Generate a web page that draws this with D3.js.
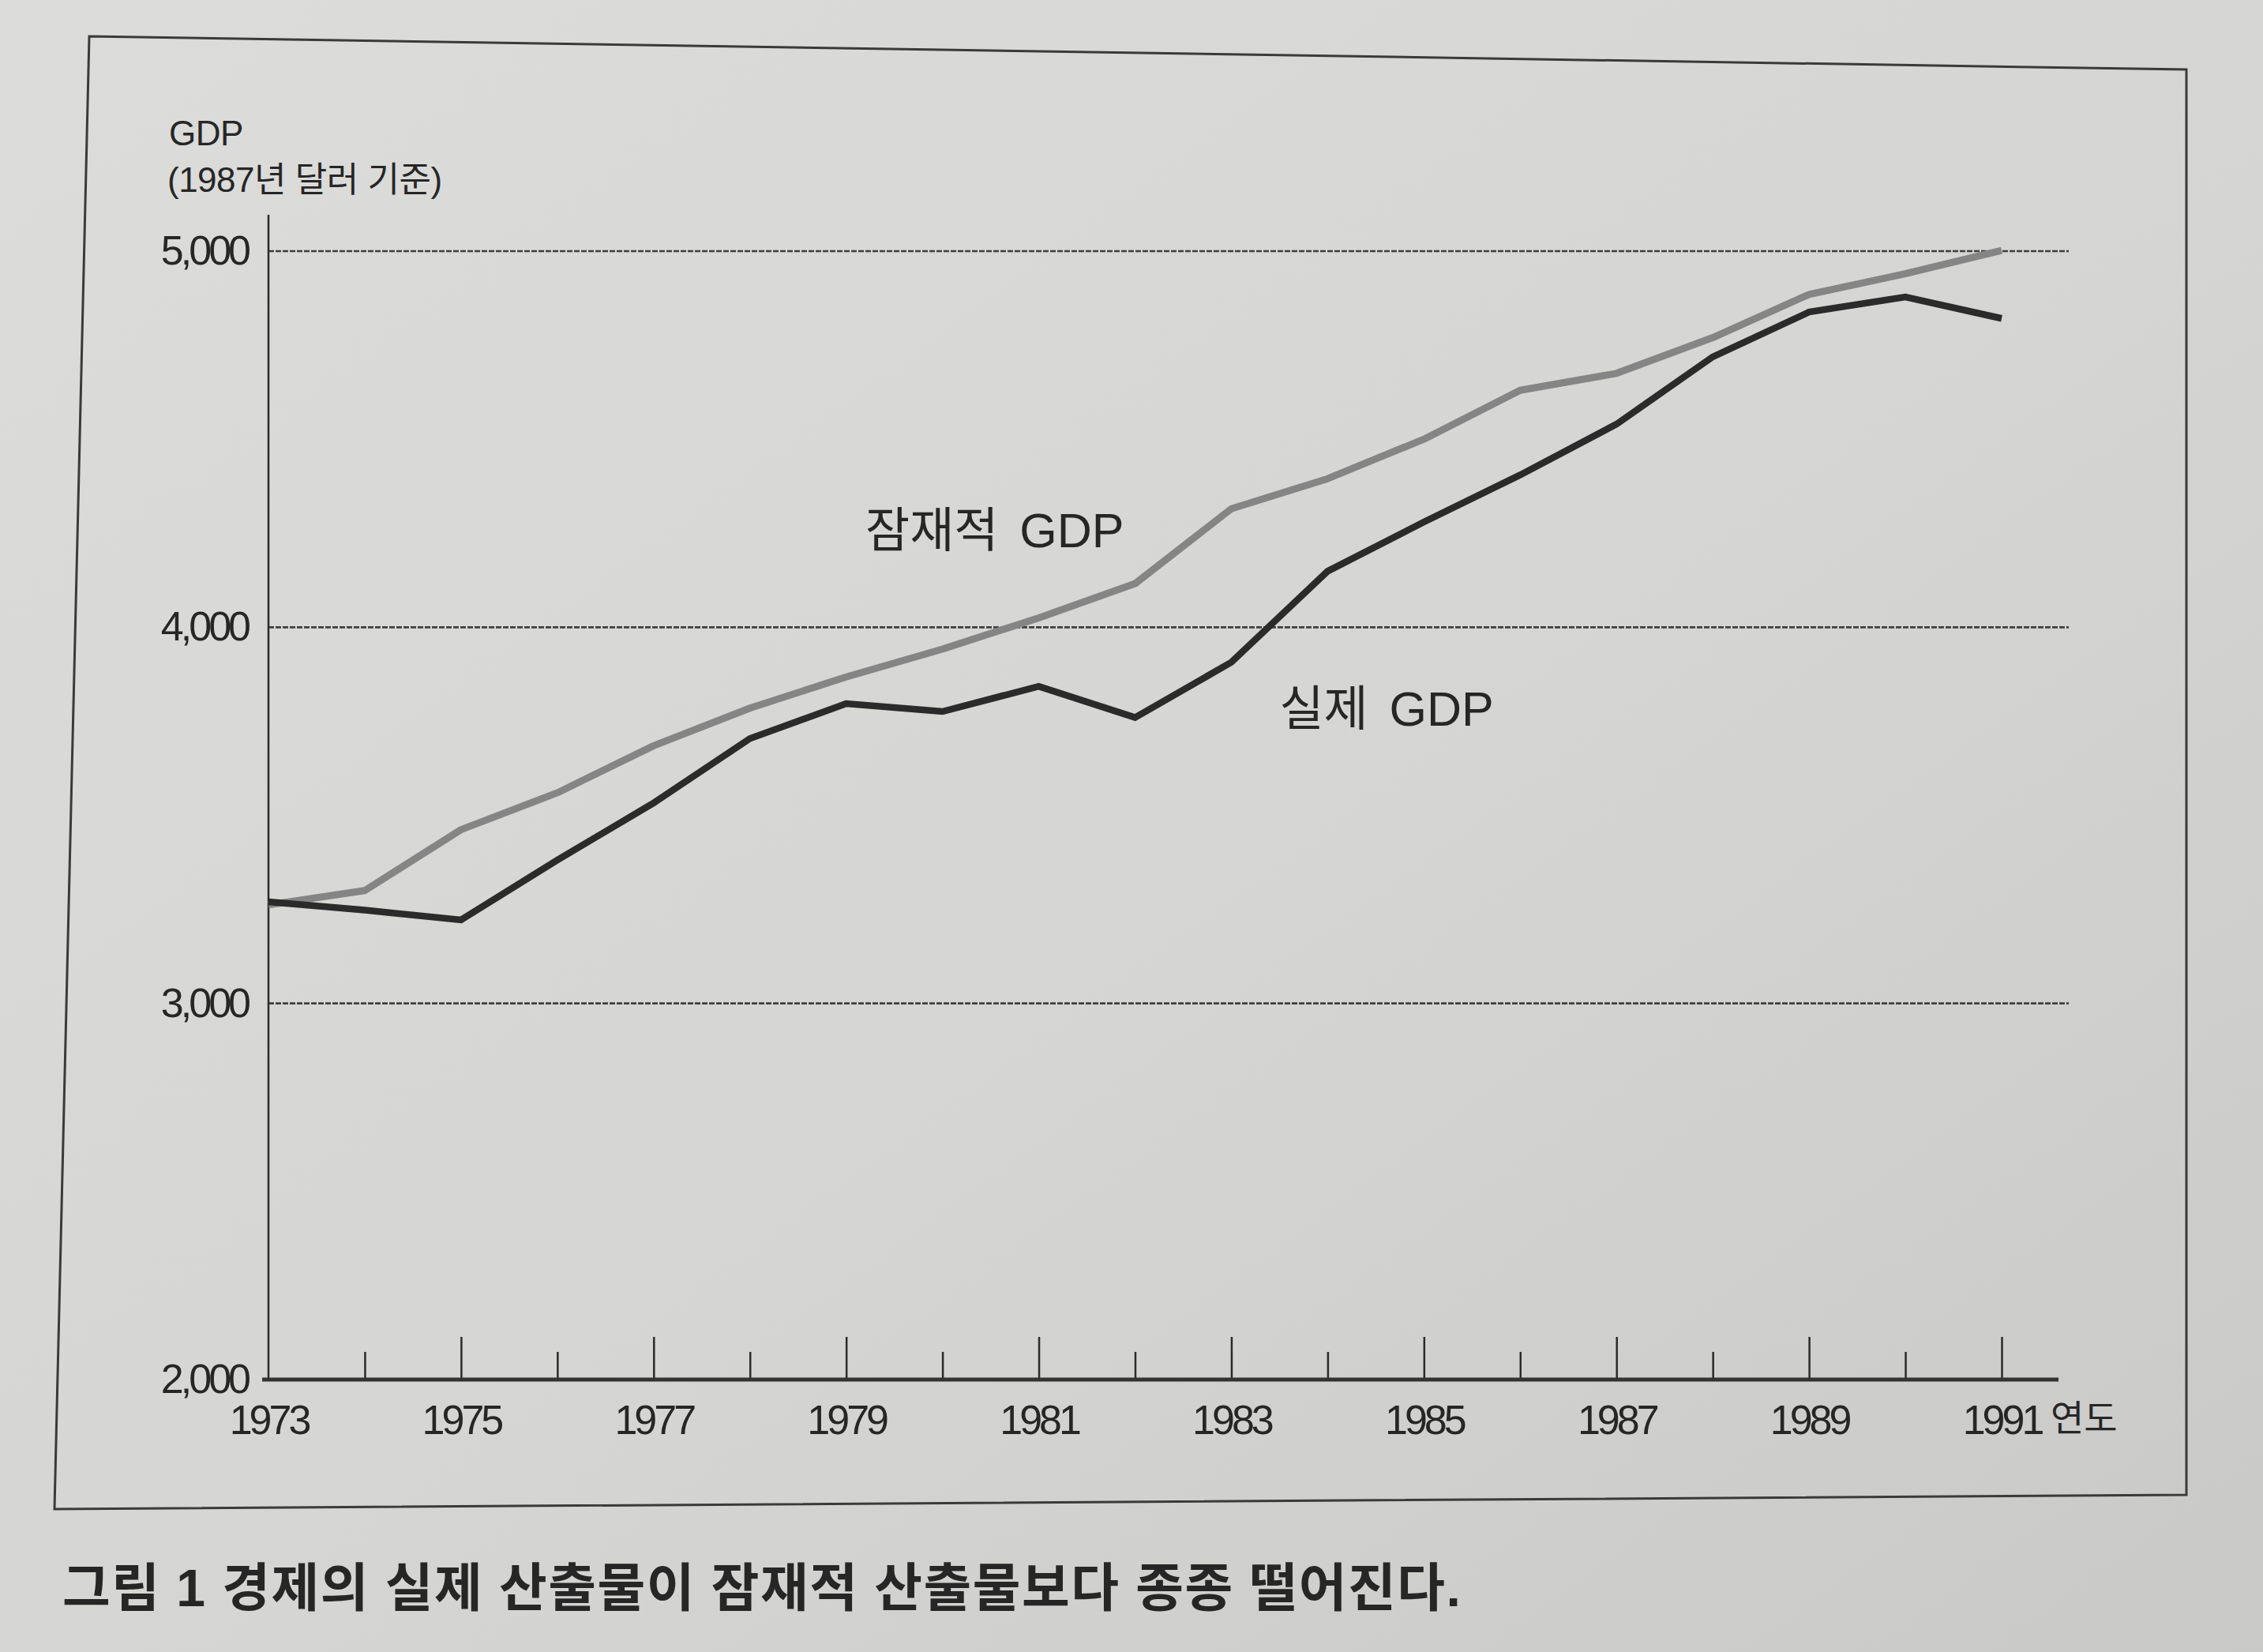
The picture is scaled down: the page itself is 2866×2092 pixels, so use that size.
<!DOCTYPE html>
<html>
<head>
<meta charset="utf-8">
<script src="https://cdn.jsdelivr.net/npm/d3@7"></script>
<style>
  html, body { margin: 0; padding: 0; }
  body { width: 2866px; height: 2092px; overflow: hidden; }
  svg text { font-family: "Liberation Sans", "Noto Sans CJK KR", sans-serif; fill: #262626; }
</style>
</head>
<body>
<div id="chart"></div>
<script>
// Data, GDP in 1987 dollars
const years = [1973, 1974, 1975, 1976, 1977, 1978, 1979, 1980, 1981, 1982,
               1983, 1984, 1985, 1986, 1987, 1988, 1989, 1990, 1991];
const potentialGDP = [3262, 3300, 3462, 3560, 3685, 3785, 3868, 3942, 4025, 4116,
                      4315, 4395, 4500, 4630, 4675, 4770, 4885, 4940, 5002];
const actualGDP = [3270, 3248, 3222, 3381, 3533, 3704, 3797, 3776, 3843, 3760,
                   3907, 4149, 4280, 4405, 4540, 4719, 4838, 4878, 4821];
const yTicks = [2000, 3000, 4000, 5000];
const gridValues = [3000, 4000, 5000];
const labelYears = [1973, 1975, 1977, 1979, 1981, 1983, 1985, 1987, 1989, 1991];

const W = 2866, H = 2092;

const svg = d3.select("#chart")
    .append("svg")
    .attr("width", W)
    .attr("height", H);

// paper background
const defs = svg.append("defs");
const grad = defs.append("linearGradient")
    .attr("id", "paper")
    .attr("x1", 0).attr("y1", 0).attr("x2", 1).attr("y2", 1);
grad.append("stop").attr("offset", "0%").attr("stop-color", "#dcdcda");
grad.append("stop").attr("offset", "55%").attr("stop-color", "#d5d5d3");
grad.append("stop").attr("offset", "100%").attr("stop-color", "#c9c9c7");
svg.append("rect").attr("width", W).attr("height", H).attr("fill", "url(#paper)");

// frame around the figure
svg.append("path")
    .attr("d", "M113,46 L2769,88 L2769,1893 L69,1911 Z")
    .attr("fill", "none")
    .attr("stroke", "#3a3a3a")
    .attr("stroke-width", 3);

// scales
const x = d3.scaleLinear().domain([1973, 1991]).range([340, 2535]);
const y = d3.scaleLinear().domain([2000, 5000]).range([1747, 318]);

const axisEnd = x.range()[1] + 72;
const gridEnd = x.range()[1] + 85;

// grid lines
svg.append("g")
    .selectAll("line")
    .data(gridValues)
    .join("line")
    .attr("x1", x(1973))
    .attr("x2", gridEnd)
    .attr("y1", d => y(d))
    .attr("y2", d => y(d))
    .attr("stroke", "#3f3f3f")
    .attr("stroke-width", 2.6)
    .attr("stroke-dasharray", "7 2");

// y axis
const yAxis = svg.append("g")
    .attr("transform", `translate(${x(1973)},0)`)
    .call(d3.axisLeft(y).tickValues(yTicks).tickSize(0).tickPadding(26)
        .tickFormat(d3.format(",")));
yAxis.select(".domain").remove();
yAxis.selectAll("text")
    .attr("font-size", 52)
    .attr("letter-spacing", -4)
    .attr("fill", "#262626");
yAxis.append("line")
    .attr("x1", 0).attr("x2", 0)
    .attr("y1", y(5000) - 46)
    .attr("y2", y(2000))
    .attr("stroke", "#2a2a2a")
    .attr("stroke-width", 2.5);

// x axis, ticks pointing up, long for odd years
const xAxis = svg.append("g")
    .attr("transform", `translate(0,${y(2000)})`)
    .call(d3.axisBottom(x).tickValues(years).tickSizeInner(-54).tickSizeOuter(0)
        .tickPadding(32)
        .tickFormat(d => labelYears.includes(d) ? String(d) : ""));
xAxis.select(".domain").remove();
xAxis.selectAll(".tick line")
    .attr("y2", d => labelYears.includes(d) ? -54 : -35)
    .attr("stroke", "#2a2a2a")
    .attr("stroke-width", 2.5);
xAxis.selectAll(".tick").filter(d => d === 1973).select("line").remove();
xAxis.selectAll(".tick text")
    .attr("font-size", 52)
    .attr("letter-spacing", -4)
    .attr("fill", "#262626");
xAxis.append("line")
    .attr("x1", x(1973) - 8).attr("x2", axisEnd)
    .attr("y1", 0).attr("y2", 0)
    .attr("stroke", "#333")
    .attr("stroke-width", 5);
xAxis.append("text")
    .attr("x", x(1991) + 62)
    .attr("y", 32)
    .attr("dy", "0.71em")
    .attr("text-anchor", "start")
    .attr("font-size", 46)
    .attr("fill", "#262626")
    .text("연도");

// axis title
const title = svg.append("text")
    .attr("font-size", 44)
    .attr("letter-spacing", -0.5);
title.append("tspan").attr("x", 214).attr("y", 184).text("GDP");
title.append("tspan").attr("x", 212).attr("y", 243).text("(1987년 달러 기준)");

// lines
const line = d3.line()
    .x((d, i) => x(years[i]))
    .y(d => y(d));

svg.append("path")
    .datum(potentialGDP)
    .attr("d", line)
    .attr("fill", "none")
    .attr("stroke", "#858585")
    .attr("stroke-width", 9)
    .attr("stroke-linejoin", "round");

svg.append("path")
    .datum(actualGDP)
    .attr("d", line)
    .attr("fill", "none")
    .attr("stroke", "#2b2b2b")
    .attr("stroke-width", 8.5)
    .attr("stroke-linejoin", "miter");

// series labels
svg.append("text")
    .attr("x", x(1979.2))
    .attr("y", y(4213))
    .attr("font-size", 61)
    .attr("word-spacing", 10)
    .text("잠재적 GDP");

svg.append("text")
    .attr("x", x(1983.5))
    .attr("y", y(3738))
    .attr("font-size", 61)
    .attr("word-spacing", 10)
    .text("실제 GDP");

// caption
svg.append("text")
    .attr("x", 79)
    .attr("y", 2034)
    .attr("font-size", 66)
    .attr("font-weight", 700)
    .attr("letter-spacing", 1.5)
    .attr("fill", "#222")
    .text("그림 1 경제의 실제 산출물이 잠재적 산출물보다 종종 떨어진다.");
</script>
</body>
</html>
